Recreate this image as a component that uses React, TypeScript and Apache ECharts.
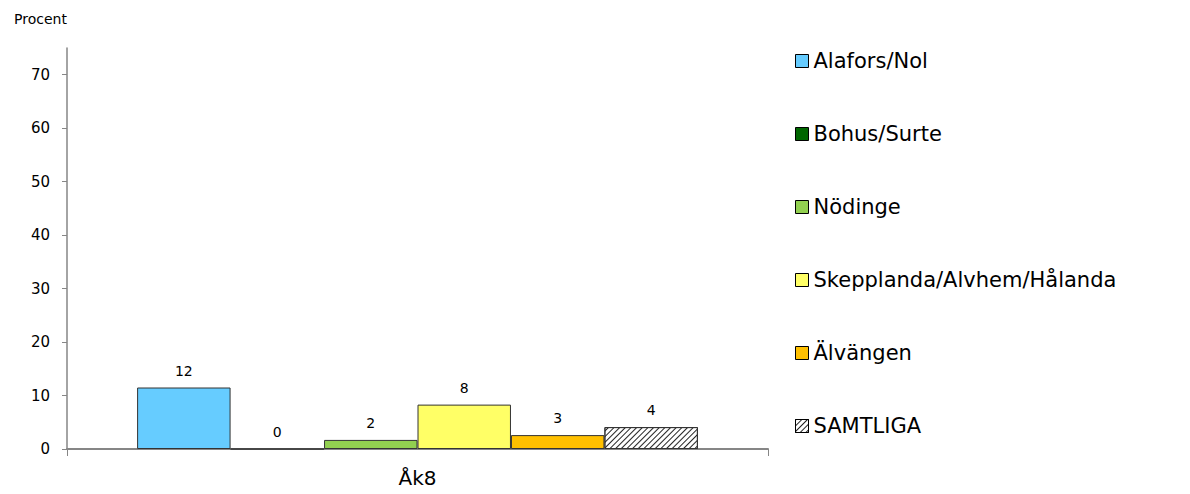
import React, { useEffect, useRef } from "react";
import * as echarts from "echarts";

const categories = ["Åk8"];
const seriesNames = [
  "Alafors/Nol",
  "Bohus/Surte",
  "Nödinge",
  "Skepplanda/Alvhem/Hålanda",
  "Älvängen",
  "SAMTLIGA",
];
const alaforsNol = [11.5];
const bohusSurte = [0];
const nodinge = [1.7];
const skepplanda = [8.3];
const alvangen = [2.6];
const samtliga = [4.1];
const seriesValues = [alaforsNol, bohusSurte, nodinge, skepplanda, alvangen, samtliga];
const seriesColors = ["#66CCFF", "#006600", "#92D050", "#FFFF66", "#FFC000", "#FFFFFF"];
const yTicks = [0, 10, 20, 30, 40, 50, 60, 70];

const FONT = "DejaVu Sans, Verdana, sans-serif";

export default function App() {
  const ref = useRef<HTMLDivElement>(null);
  useEffect(() => {
    if (!ref.current) return;
    const chart = echarts.init(ref.current, undefined, { renderer: "svg" });
    const series = seriesNames.map((name, i) => {
      const isHatch = name === "SAMTLIGA";
      return {
        name,
        type: "bar",
        data: seriesValues[i],
        barGap: "0%",
        barCategoryGap: "20%",
        itemStyle: {
          color: seriesColors[i],
          borderColor: "#333333",
          borderWidth: 1,
          ...(isHatch
            ? {
                decal: {
                  symbol: "rect",
                  symbolSize: 1,
                  dashArrayX: [[1, 0]],
                  dashArrayY: [1, 3],
                  rotation: -Math.PI / 4,
                  color: "#222222",
                },
              }
            : {}),
        },
        label: {
          show: true,
          position: "top",
          distance: 10,
          color: "#000",
          fontFamily: FONT,
          fontSize: 14,
          formatter: (p: any) => String(Math.round(p.value)),
        },
      };
    });
    chart.setOption({
      animation: false,
      backgroundColor: "#ffffff",
      aria: { enabled: false },
      title: {
        text: "Procent",
        left: 9,
        top: 7,
        textStyle: { fontFamily: FONT, fontSize: 14, fontWeight: "normal", color: "#000" },
      },
      legend: {
        orient: "vertical",
        left: 790,
        top: 44,
        itemWidth: 13,
        itemHeight: 13,
        itemGap: 49,
        itemTextGap: 4,
        itemStyle: { borderColor: "#000", borderWidth: 1 },
        textStyle: { fontFamily: FONT, fontSize: 21, color: "#000", lineHeight: 24 },
        data: seriesNames.map((n) => ({ name: n, icon: "rect" })),
      },
      grid: { left: 67, right: 422, top: 48, bottom: 45, containLabel: false },
      xAxis: {
        type: "category",
        data: categories,
        boundaryGap: true,
        axisLine: { lineStyle: { color: "#868686", width: 2 } },
        axisTick: { show: true, length: 7, lineStyle: { color: "#868686" } },
        axisLabel: { fontFamily: FONT, fontSize: 20, color: "#000", margin: 19 },
      },
      yAxis: {
        type: "value",
        min: 0,
        max: 75,
        interval: 10,
        splitLine: { show: false },
        axisLine: { show: true, lineStyle: { color: "#868686", width: 1.5 } },
        axisTick: { show: true, length: 5, lineStyle: { color: "#868686" }, customValues: yTicks },
        axisLabel: {
          fontFamily: FONT,
          fontSize: 15,
          color: "#000",
          margin: 17,
          customValues: yTicks,
        },
      },
      series,
    });
    return () => chart.dispose();
  }, []);
  return (
    <div
      ref={ref}
      style={{ position: "fixed", left: 0, top: 0, width: 1190, height: 494, background: "#fff" }}
    />
  );
}
